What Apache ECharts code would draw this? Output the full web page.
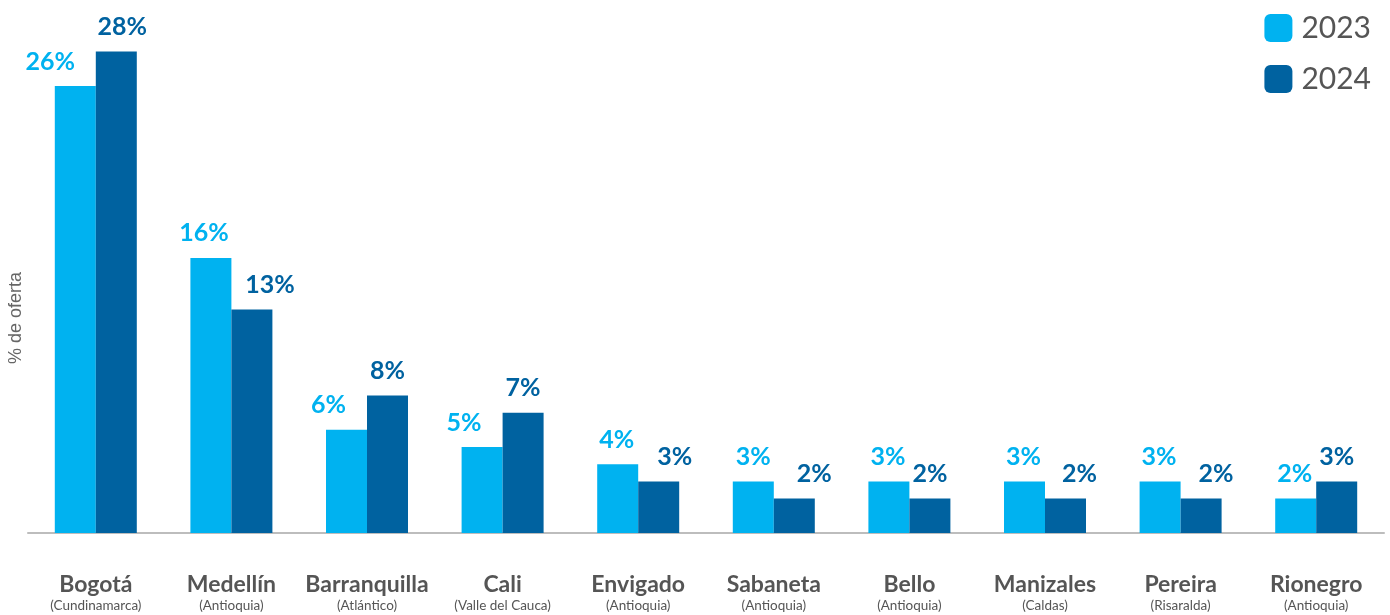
<!DOCTYPE html>
<html>
<head>
<meta charset="utf-8">
<script src="https://cdn.jsdelivr.net/npm/echarts@6/dist/echarts.min.js"></script>
<style>
  html, body { margin: 0; padding: 0; background: #fff; }
  #chart { width: 1390px; height: 615px; }
</style>
</head>
<body>
<div id="chart"></div>
<script>
// Cities and their departments
const cities = ['Bogotá', 'Medellín', 'Barranquilla', 'Cali', 'Envigado', 'Sabaneta', 'Bello', 'Manizales', 'Pereira', 'Rionegro'];
const departments = ['Cundinamarca', 'Antioquia', 'Atlántico', 'Valle del Cauca', 'Antioquia', 'Antioquia', 'Antioquia', 'Caldas', 'Risaralda', 'Antioquia'];

// Share of supply (%) per year
const years = ['2023', '2024'];
const share2023 = [26, 16, 6, 5, 4, 3, 3, 3, 3, 2];
const share2024 = [28, 13, 8, 7, 3, 2, 2, 2, 2, 3];

// Horizontal nudge of each value label (px)
const nudge2023 = [-25, -7, -18, -18, -1, 0, -1, -1, -1, -1];
const nudge2024 = [6, 18, 0, 0, 16, 20, 0, 14, 15, 0];

const colors = ['#00B2F0', '#0062A0'];
const FONT = 'Lato';

function seriesData(values, nudges) {
  return values.map((v, i) => ({
    value: v,
    label: { offset: [nudges[i], 0] }
  }));
}

function makeSeries(name, values, nudges, color) {
  return {
    name: name,
    type: 'bar',
    barWidth: 41,
    barGap: '0%',
    itemStyle: { color: color },
    label: {
      show: true,
      position: 'top',
      distance: 12,
      formatter: '{c}%',
      color: color,
      fontFamily: FONT,
      fontWeight: 'bold',
      fontSize: 25
    },
    data: seriesData(values, nudges)
  };
}

const chart = echarts.init(document.getElementById('chart'));
chart.setOption({
  animation: false,
  textStyle: { fontFamily: FONT },
  grid: { left: 28, right: 6, top: 0, bottom: 82, containLabel: false },
  legend: {
    orient: 'vertical',
    right: 14,
    top: 8,
    itemWidth: 28,
    itemHeight: 28,
    itemGap: 21,
    icon: 'path://M6,0 H22 A6,6 0 0 1 28,6 V22 A6,6 0 0 1 22,28 H6 A6,6 0 0 1 0,22 V6 A6,6 0 0 1 6,0 Z',
    textStyle: { fontFamily: FONT, fontSize: 30, color: '#555', padding: [0, 0, 0, 4] },
    data: years
  },
  xAxis: {
    type: 'category',
    data: cities,
    axisLine: { show: true, lineStyle: { color: '#BDBDBD', width: 2 } },
    axisTick: { show: false },
    axisLabel: {
      interval: 0,
      margin: 40,
      formatter: (v, i) => '{n|' + v + '}\n{d|(' + departments[i] + ')}',
      rich: {
        n: { fontFamily: FONT, fontWeight: 'bold', fontSize: 23, color: '#555', lineHeight: 24 },
        d: { fontFamily: FONT, fontSize: 13.5, color: '#555', lineHeight: 18 }
      }
    }
  },
  yAxis: {
    type: 'value',
    min: 0,
    max: 31,
    show: false,
    splitLine: { show: false }
  },
  graphic: [{
    type: 'text',
    x: 16,
    y: 318,
    rotation: Math.PI / 2,
    style: {
      text: '% de oferta',
      fontFamily: 'Liberation Sans',
      fontSize: 18,
      fill: '#666',
      textAlign: 'center',
      textVerticalAlign: 'middle'
    }
  }],
  series: [
    makeSeries(years[0], share2023, nudge2023, colors[0]),
    makeSeries(years[1], share2024, nudge2024, colors[1])
  ]
});
</script>
</body>
</html>
